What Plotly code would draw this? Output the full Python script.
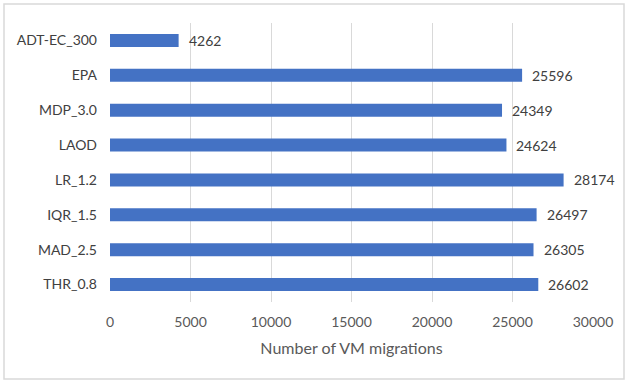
import plotly.graph_objects as go

categories = ["THR_0.8", "MAD_2.5", "IQR_1.5", "LR_1.2", "LAOD", "MDP_3.0", "EPA", "ADT-EC_300"]
values = [26602, 26305, 26497, 28174, 24624, 24349, 25596, 4262]
x_ticks = [0, 5000, 10000, 15000, 20000, 25000, 30000]

font_family = "Lato, 'Open Sans', sans-serif"

L, R, T, B = 110, 35, 23, 80
W, H = 628, 382
pw, ph = W - L - R, H - T - B

fig = go.Figure(go.Bar(
    y=categories, x=values, orientation="h",
    marker=dict(color="#4472C4", line=dict(width=0)),
    hoverinfo="x+y",
))

for c, v in zip(categories, values):
    fig.add_annotation(
        x=v, y=c, xref="x", yref="y", text=str(v), showarrow=False,
        xanchor="left", xshift=8, font=dict(color="#404040", size=14, family=font_family),
    )

fig.update_layout(
    width=W, height=H,
    margin=dict(l=L, r=R, t=T, b=B),
    paper_bgcolor="white", plot_bgcolor="white",
    bargap=0.63,
    showlegend=False,
    font=dict(family=font_family, color="#595959", size=14),
    xaxis=dict(
        range=[0, 30000], tickvals=x_ticks, ticktext=[str(t) for t in x_ticks],
        showgrid=True, gridcolor="#d9d9d9", gridwidth=1, zeroline=False,
        showline=False, ticks="", tickfont=dict(size=14, color="#595959"),
        ticklabelstandoff=10,
        title=dict(text="Number of VM migrations", font=dict(size=16, color="#595959"), standoff=13),
    ),
    yaxis=dict(
        showgrid=False, zeroline=False, showline=False, ticks="",
        tickfont=dict(size=14, color="#404040"), ticklabelstandoff=12,
    ),
    shapes=[dict(
        type="rect", xref="paper", yref="paper",
        x0=(4 - L) / pw, x1=(624 - L) / pw,
        y0=(H - B - 379) / ph, y1=(H - B - 4) / ph,
        line=dict(color="#d9d9d9", width=1.5), layer="below",
    )],
)

fig.write_html("out.html")
